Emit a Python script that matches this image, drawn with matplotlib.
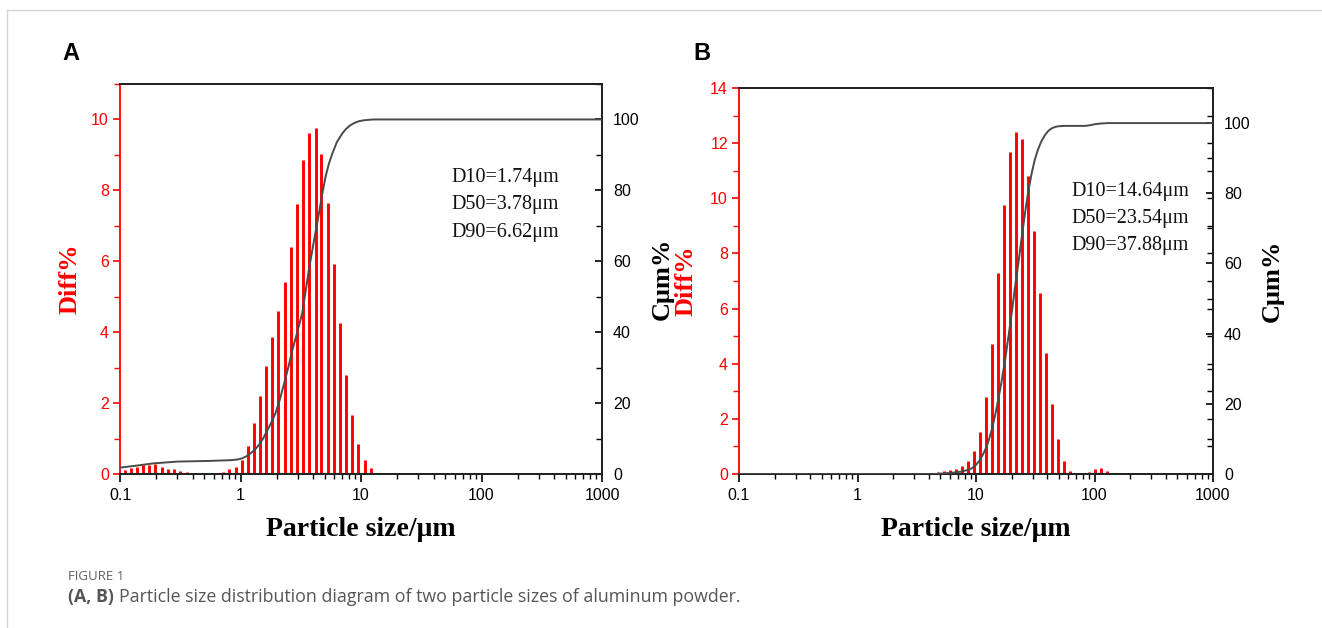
import matplotlib
matplotlib.use("Agg")
import matplotlib.pyplot as plt
from matplotlib.ticker import FixedLocator, LogLocator, NullFormatter, FuncFormatter, MultipleLocator
from matplotlib.patches import Rectangle

# ---- data ----
# panel A : differential distribution (bars)
size_a = [0.111, 0.124, 0.139, 0.156, 0.175, 0.196, 0.222, 0.250, 0.282, 0.317, 0.357,
          0.713, 0.81, 0.909, 1.03, 1.159, 1.30, 1.457, 1.634, 1.843, 2.067, 2.332, 2.615,
          2.955, 3.314, 3.717, 4.193, 4.701, 5.302, 5.994, 6.721, 7.539, 8.50, 9.53,
          10.75, 12.15]
diff_a = [0.11, 0.18, 0.21, 0.24, 0.26, 0.27, 0.21, 0.15, 0.13, 0.09, 0.06,
          0.05, 0.13, 0.21, 0.39, 0.79, 1.43, 2.21, 3.05, 3.87, 4.59, 5.42, 6.40,
          7.62, 8.85, 9.61, 9.76, 9.03, 7.64, 5.93, 4.27, 2.78, 1.66, 0.86,
          0.39, 0.16]
# panel A : cumulative curve
cum_size_a = [0.1, 0.14, 0.19, 0.30, 0.56, 0.83, 0.95, 1.03, 1.12, 1.21, 1.32, 1.42, 1.54,
              1.65, 1.80, 1.95, 2.12, 2.30, 2.49, 2.69, 2.96, 3.25, 3.47, 3.69, 4.07,
              4.47, 4.76, 5.07, 5.40, 5.77, 6.30, 6.98, 7.50, 8.10, 8.80, 9.60, 10.5,
              11.6, 12.8, 14.0, 1000]
cum_a = [1.8, 2.4, 3.0, 3.5, 3.7, 3.9, 4.1, 4.4, 5.0, 5.8, 6.9, 8.2, 10.0,
         12.0, 14.5, 17.1, 21.0, 25.5, 30.0, 34.9, 40.0, 45.3, 51.5, 57.5, 65.8,
         73.4, 78.8, 83.7, 87.4, 90.3, 93.6, 96.0, 97.3, 98.3, 99.0, 99.5, 99.75,
         99.9, 100.0, 100.0, 100.0]
d_text_a = ["D10=1.74\u03bcm", "D50=3.78\u03bcm", "D90=6.62\u03bcm"]

# panel B
size_b = [4.81, 5.40, 6.03, 6.78, 7.62, 8.56, 9.62, 10.81, 12.14, 13.65, 15.33, 17.23,
          19.36, 21.76, 24.45, 27.47, 30.87, 34.69, 38.97, 43.79, 49.5, 55.6, 62.5,
          89.3, 100.4, 112.8, 126.8]
diff_b = [0.08, 0.12, 0.16, 0.19, 0.29, 0.48, 0.83, 1.53, 2.80, 4.72, 7.28, 9.74,
          11.69, 12.42, 12.15, 10.81, 8.83, 6.55, 4.38, 2.54, 1.26, 0.48, 0.12,
          0.07, 0.18, 0.22, 0.12]
cum_size_b = [0.1, 4.5, 5.48, 6.5, 7.57, 8.4, 9.2, 10.0, 10.8, 11.5, 12.3, 12.9, 13.56,
              14.45, 15.4, 16.5, 17.6, 18.8, 20.0, 21.3, 22.75, 24.3, 25.9, 27.6, 29.5,
              31.3, 33.3, 35.5, 38.2, 40.8, 43.5, 46.5, 49.5, 56.0, 64.2, 75.0, 83.1,
              92.0, 101, 115, 130, 1000]
cum_b = [0.0, 0.0, 0.2, 0.4, 0.7, 1.1, 1.6, 2.6, 4.0, 5.7, 7.8, 10.0, 12.5,
         16.5, 21.1, 26.7, 32.5, 39.2, 45.8, 53.0, 60.0, 67.4, 74.3, 80.5, 85.7,
         89.5, 92.4, 94.7, 96.6, 97.8, 98.5, 98.9, 99.1, 99.2, 99.2, 99.2, 99.2,
         99.4, 99.7, 99.9, 100.0, 100.0]
d_text_b = ["D10=14.64\u03bcm", "D50=23.54\u03bcm", "D90=37.88\u03bcm"]

W, H = 1322, 628
fig = plt.figure(figsize=(W / 100, H / 100), dpi=100)

# page frame
fig.patches.append(Rectangle((7 / W, -0.1), 1.2, 1 - 10 / H + 0.1, transform=fig.transFigure,
                             fill=False, edgecolor="#d4d4d4", lw=1.0))

SERIF = "Liberation Serif"
SANS = "Liberation Sans"


def panel(rect, sizes, diffs, csizes, cums, ymax, dtext, dpos, letter, letter_x, lab_x):
    ax = fig.add_axes(rect)
    ax.vlines(sizes, 0, diffs, colors="#ff0000", lw=2.1, capstyle="butt", zorder=2)
    ax.set_xscale("log")
    ax.set_xlim(0.1, 1000)
    ax.set_ylim(0, ymax)
    ax.xaxis.set_major_locator(FixedLocator([0.1, 1, 10, 100, 1000]))
    ax.xaxis.set_major_formatter(FuncFormatter(lambda v, p: "{:g}".format(v)))
    ax.xaxis.set_minor_locator(LogLocator(base=10, subs=range(2, 10)))
    ax.xaxis.set_minor_formatter(NullFormatter())
    ax.yaxis.set_major_locator(MultipleLocator(2))
    ax.yaxis.set_minor_locator(MultipleLocator(1))
    ax.tick_params(axis="x", which="major", direction="out", length=6, width=1.2,
                   labelsize=11.5, pad=4)
    ax.tick_params(axis="x", which="minor", direction="out", length=3.5, width=1.0)
    ax.tick_params(axis="y", which="major", direction="out", length=5, width=1.2,
                   colors="#ff0000", labelsize=11.5, pad=3)
    ax.tick_params(axis="y", which="minor", direction="out", length=4, width=1.0,
                   colors="#ff0000")
    for lab in ax.get_xticklabels() + ax.get_yticklabels():
        lab.set_family(SANS)
    for s in ["top", "right", "bottom"]:
        ax.spines[s].set_color("#222222")
        ax.spines[s].set_linewidth(1.3)
    ax.spines["left"].set_color("#ff0000")
    ax.spines["left"].set_linewidth(1.3)

    ax2 = ax.twinx()
    ax2.plot(csizes, cums, color="#4a4a4a", lw=1.4, zorder=3)
    ax2.set_ylim(0, 110)
    ax2.yaxis.set_major_locator(FixedLocator([0, 20, 40, 60, 80, 100]))
    minors = [10, 30, 50, 70, 90, 110]
    if ymax != 11:
        # left-axis ticks mirrored on the right spine
        minors = sorted(set(minors + [k * 110 / ymax for k in range(0, ymax + 1)]))
    ax2.yaxis.set_minor_locator(FixedLocator(minors))
    ax2.tick_params(axis="y", which="major", direction="in", length=5, width=1.2,
                    labelsize=11.5, pad=8)
    ax2.tick_params(axis="y", which="minor", direction="in", length=4, width=1.0)
    for lab in ax2.get_yticklabels():
        lab.set_family(SANS)
    for s in ["top", "right", "bottom"]:
        ax2.spines[s].set_color("#222222")
        ax2.spines[s].set_linewidth(1.3)
    ax2.spines["left"].set_visible(False)

    ax.set_xlabel("Particle size/\u03bcm", family=SERIF, weight="bold", fontsize=20, labelpad=10)
    ax.set_ylabel("Diff%", family=SERIF, weight="bold", fontsize=19, color="#ff0000")
    ax2.set_ylabel("C\u03bcm%", family=SERIF, weight="bold", fontsize=19)
    # place the rotated labels where the reference has them (pixel x of the centre);
    # the left label is anchored at its right edge, the right one at its left edge
    x0, w = rect[0] * W, rect[2] * W
    ax.yaxis.set_label_coords((lab_x[0] + 10 - x0) / w, 0.5)
    ax2.yaxis.set_label_coords((lab_x[1] - 10 - x0) / w, 0.5)

    for i, t in enumerate(dtext):
        ax.text(dpos[0], dpos[1] - i * 0.07, t, transform=ax.transAxes, family=SERIF,
                fontsize=14.5, va="center", ha="left", color="#111111")
    fig.text(letter_x / W, 1 - 53 / H, letter, family=SANS, weight="bold", fontsize=17,
             va="center", ha="left")
    return ax, ax2


panel([120 / W, 1 - 474 / H, 482 / W, 390 / H], size_a, diff_a, cum_size_a, cum_a, 11,
      d_text_a, (0.688, 0.76), "A", 62, (72, 661))
panel([739 / W, 1 - 474 / H, 474 / W, 386 / H], size_b, diff_b, cum_size_b, cum_b, 14,
      d_text_b, (0.701, 0.733), "B", 693, (688, 1271))

fig.text(68 / W, 1 - 577 / H, "FIGURE 1", family="Open Sans", fontsize=9.5,
         color="#606060", va="center", ha="left")
t1 = fig.text(68 / W, 1 - 597 / H, "(A, B)", family="Open Sans", weight="bold",
              fontsize=12.8, color="#555555", va="center", ha="left")
fig.canvas.draw()
bb = t1.get_window_extent()
fig.text((bb.x1 + 5) / W, 1 - 597 / H,
         "Particle size distribution diagram of two particle sizes of aluminum powder.",
         family="Open Sans", fontsize=12.8, color="#555555", va="center", ha="left")

fig.savefig("out.png", dpi=100)
